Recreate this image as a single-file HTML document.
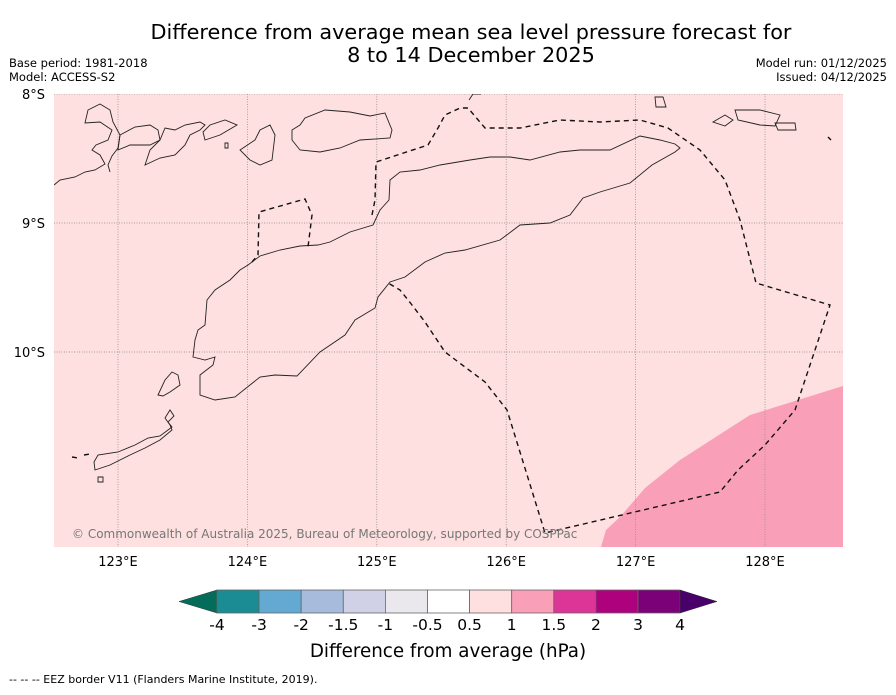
<!DOCTYPE html>
<html><head><meta charset="utf-8"><style>
body{margin:0;background:#fff;font-family:"Liberation Sans","DejaVu Sans",sans-serif;}
svg text{font-family:"DejaVu Sans","Liberation Sans",sans-serif;}
</style></head><body>
<svg width="896" height="690" xmlns="http://www.w3.org/2000/svg">
<text x="471" y="39" font-size="20.8" text-anchor="middle">Difference from average mean sea level pressure forecast for</text>
<text x="471" y="62" font-size="20.8" text-anchor="middle">8 to 14 December 2025</text>
<text x="9" y="67" font-size="11.5">Base period: 1981-2018</text>
<text x="9" y="81" font-size="11.5">Model: ACCESS-S2</text>
<text x="887" y="67" font-size="11.5" text-anchor="end">Model run: 01/12/2025</text>
<text x="887" y="81" font-size="11.5" text-anchor="end">Issued: 04/12/2025</text>
<defs><clipPath id="mc"><rect x="54" y="94" width="789" height="453"/></clipPath></defs>
<g clip-path="url(#mc)">
<rect x="54" y="94" width="789" height="453" fill="#fde0df"/>
<polygon points="601,547 606,530 620,517 645,488 680,460 750,415 843,386 843,547" fill="#f9a0b8"/>
<g id="grid" stroke="#888" stroke-width="0.7" stroke-dasharray="1,1.5"></g>
<g fill="none" stroke="#222" stroke-width="0.9">
<path d="M193,357 L205,360 L215,357 L213,365 L200,375 L200,395 L215,400 L235,397 L260,377 L275,375 L297,376 L320,352 L345,335 L355,320 L375,308 L378,297 L390,282 L405,277 L425,262 L445,253 L465,250 L500,240 L520,225 L550,223 L570,215 L583,198 L600,192 L630,183 L652,165 L675,152 L680,148 L675,144 L660,140 L640,136 L610,150 L580,150 L560,152 L530,160 L510,157 L490,157 L470,160 L440,165 L420,170 L400,172 L390,180 L389,200 L380,210 L373,225 L350,232 L330,242 L318,245 L300,246 L280,250 L260,256 L248,265 L240,270 L230,280 L215,290 L207,300 L205,325 L198,330 L195,340 Z"/>
<path d="M54,185 L60,180 L75,177 L85,172 L95,170 L105,164 L100,155 L92,150 L96,145 L108,140 L112,130 L100,122 L85,123 L88,110 L100,104 L110,110 L113,122 L120,135 L118,148 L112,156 L108,165 L110,172"/>
<path d="M118,150 L130,145 L150,145 L160,140 L158,130 L150,125 L135,127 L120,135 Z"/>
<path d="M145,165 L160,158 L175,155 L185,145 L190,135 L200,130 L205,125 L200,122 L185,125 L175,130 L165,128 L160,140 L150,150 Z"/>
<path d="M205,140 L220,135 L237,125 L225,120 L210,125 L203,132 Z"/>
<path d="M292,130 L300,125 L305,118 L325,110 L350,112 L370,116 L385,113 L392,130 L390,138 L360,140 L340,148 L320,152 L300,150 L292,140 Z"/>
<path d="M240,150 L255,140 L260,130 L270,125 L275,135 L272,160 L260,165 L250,160 Z"/>
<path d="M225,143 L228,143 L228,148 L225,148 Z"/>
<path d="M655,97 L663,97 L666,107 L656,107 Z"/>
<path d="M713,122 L725,115 L733,120 L725,126 Z"/>
<path d="M735,110 L760,110 L780,115 L775,126 L760,125 L738,120 Z"/>
<path d="M775,123 L795,123 L796,130 L778,130 Z"/>
<path d="M469,100 L473,94 L481,94"/>
<path d="M158,395 L165,380 L172,372 L178,375 L180,385 L170,392 L163,396 Z"/>
<path d="M95,470 L110,465 L130,455 L145,448 L160,440 L172,430 L170,425 L165,418 L170,410 L174,416 L168,422 L172,427 L160,436 L148,438 L135,445 L118,452 L98,455 L94,462 Z"/>
<path d="M98,477 L103,477 L103,482 L98,482 Z"/>
</g>
<g fill="none" stroke="#111" stroke-width="1.4" stroke-dasharray="5,4">
<path d="M252,262 L258,255 L259,212 L305,199 L312,215 L308,247"/>
<path d="M372,215 L375,200 L376,162 L428,145 L438,128 L445,115 L460,108 L468,108 L485,128 L520,128 L560,120 L600,122 L640,120 L668,128 L700,150 L725,180 L740,220 L756,283 L830,305 L795,410 L765,445 L738,470 L720,492 L545,533 L507,410 L485,382 L445,352 L425,322 L412,305 L400,290 L388,283"/>
<path d="M828,137 L831,140"/>
<path d="M72,457 L78,458 M84,455 L90,454"/>
</g>
<text x="72" y="538" font-size="12" fill="#777">© Commonwealth of Australia 2025, Bureau of Meteorology, supported by COSPPac</text>
</g>
<g id="axislabels" font-size="13"></g>
<g id="cbar"></g>
<text x="448" y="657" font-size="18.3" text-anchor="middle">Difference from average (hPa)</text>
<text x="9" y="683" font-size="11">--  --  -- EEZ border V11 (Flanders Marine Institute, 2019).</text>
<script>
const lons=[123,124,125,126,127,128];
const lats=[8,9,10];
const levels=["-4","-3","-2","-1.5","-1","-0.5","0.5","1","1.5","2","3","4"];
const colors=["#1b8b94","#63a9d1","#a7bcdc","#d0d1e6","#eae8ed","#ffffff","#fde0df","#f9a0b8","#dd3497","#ae017e","#7a0177"];
const NS="http://www.w3.org/2000/svg";
const x=l=>118+(l-123)*129.4, y=a=>94+(a-8)*129;
const grid=document.getElementById('grid'), al=document.getElementById('axislabels');
function mk(t,a,p){const e=document.createElementNS(NS,t);for(const k in a)e.setAttribute(k,a[k]);p.appendChild(e);return e;}
lons.forEach(l=>{const ln=mk('line',{x1:x(l),x2:x(l),y1:94,y2:547},grid);


const t=mk('text',{x:x(l),y:566,'text-anchor':'middle'},al);t.textContent=l+'°E';

});
lats.forEach(a=>{const ln=mk('line',{x1:54,x2:843,y1:y(a),y2:y(a)},grid);


const t=mk('text',{x:45,y:y(a)+5,'text-anchor':'end'},al);t.textContent=a+'°S';

});
const cb=document.getElementById('cbar');const x0=217,w=42.1,y0=590,h=23;
const lt=mk('polygon',{points:`179,${y0+h/2} ${x0},${y0} ${x0},${y0+h}`,fill:'#046c5a',stroke:'#333','stroke-width':0.5},cb);


colors.forEach((c,i)=>{const r=mk('rect',{x:x0+i*w,y:y0,width:w,height:h,fill:c,stroke:'#666','stroke-width':0.8},cb);

});
const xe=x0+colors.length*w;
const rt=mk('polygon',{points:`${xe},${y0} 717,${y0+h/2} ${xe},${y0+h}`,fill:'#49006a',stroke:'#333','stroke-width':0.5},cb);


levels.forEach((v,i)=>{const t=mk('text',{x:x0+i*w,y:630,'text-anchor':'middle','font-size':15.5},cb);t.textContent=v;

});
</script>
</svg>
</body></html>
